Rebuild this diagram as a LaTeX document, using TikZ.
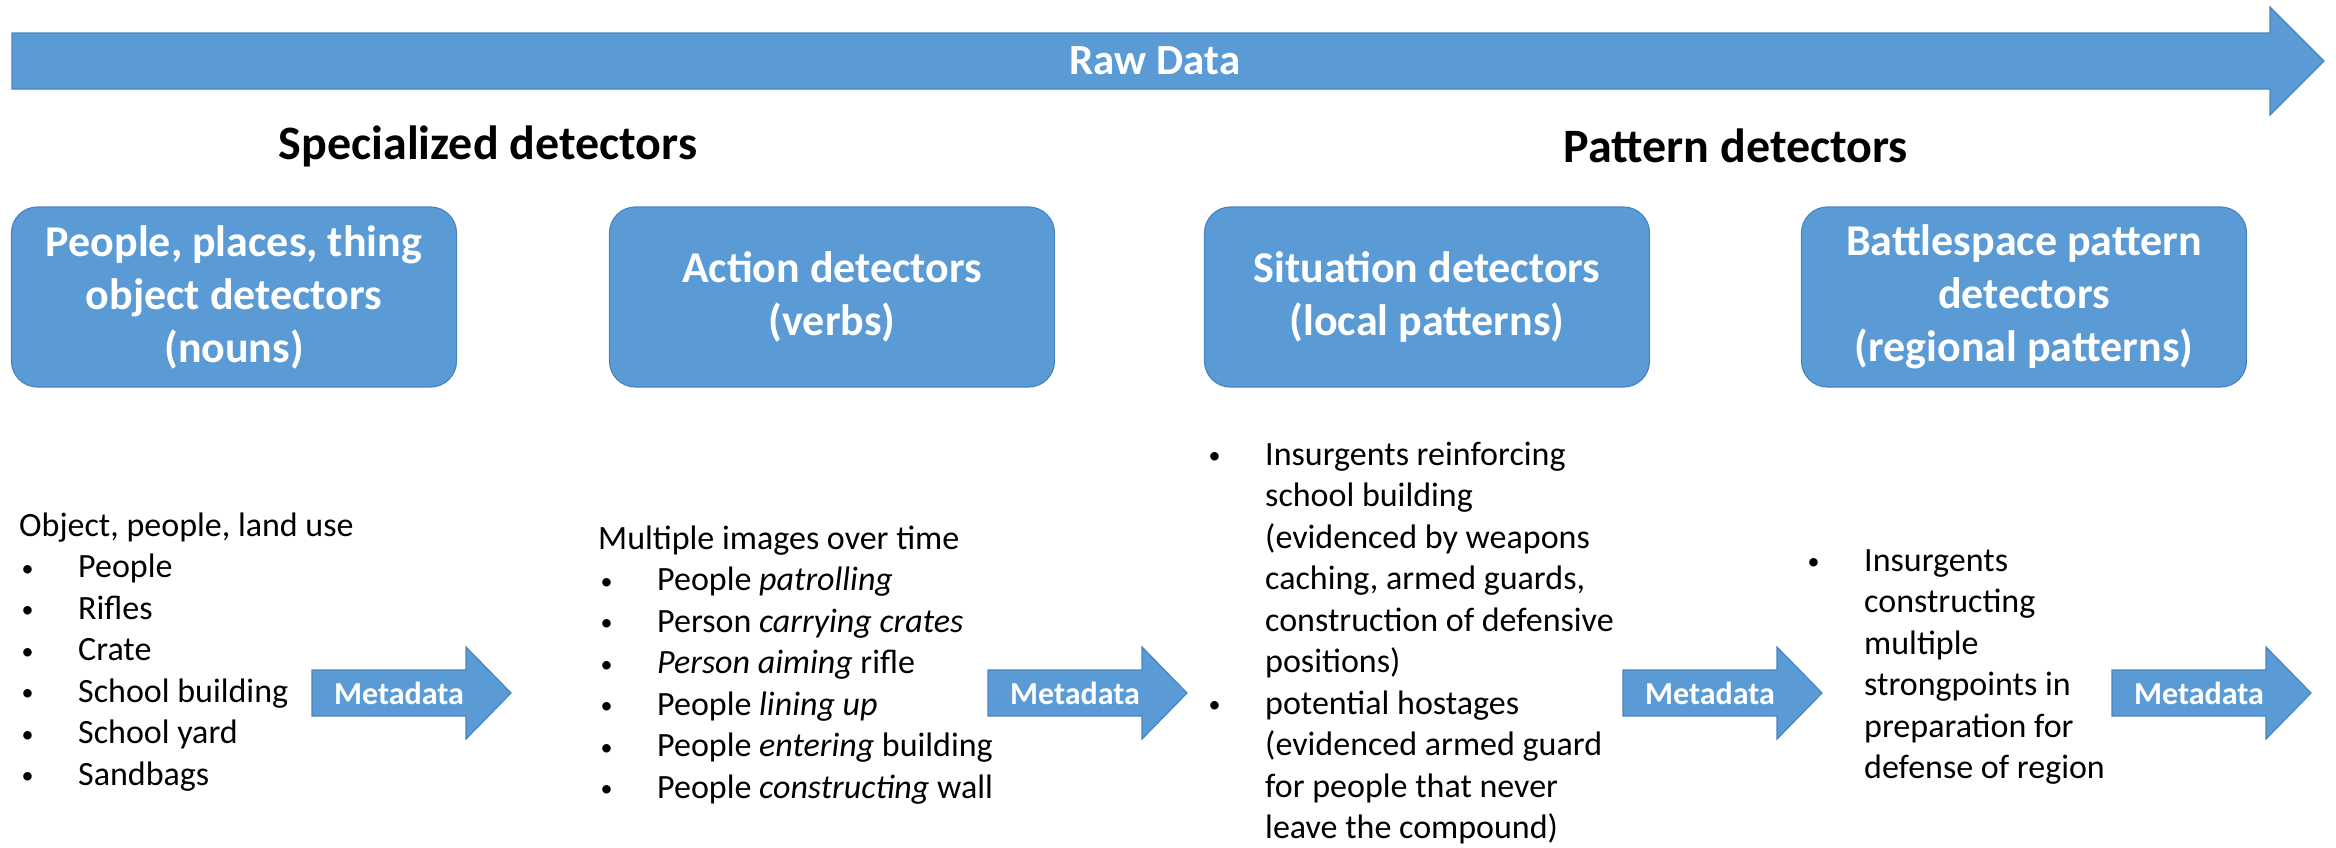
\documentclass[tikz,border=0pt]{standalone}
\usepackage{fontspec}
\setmainfont{Carlito}
\definecolor{boxblue}{HTML}{5B9BD5}
\definecolor{edgeblue}{HTML}{4A84C0}
% bullet and hanging indent for the detail lists
\newcommand{\bul}{\makebox[59pt][l]{\hspace{2.5pt}\raisebox{1.5pt}{\fontsize{24}{24}\selectfont\textbullet}}}
\newcommand{\cont}{\hspace*{59pt}}
\begin{document}
\begin{tikzpicture}[x=1pt,y=-1pt,
  blk/.style={fill=boxblue,draw=edgeblue,line width=1.2pt},
  detbox/.style={blk,rounded corners=26pt,minimum width=445pt,minimum height=180pt,
    inner sep=0pt,align=center,text=white,font=\fontsize{44}{53}\selectfont\bfseries},
  heading/.style={inner sep=0pt,font=\fontsize{48}{58}\selectfont\bfseries},
  tag/.style={text=white,inner sep=0pt,font=\fontsize{32}{38}\selectfont\bfseries},
  bodytext/.style={anchor=base west,inner sep=0pt,font=\fontsize{34}{41.5}\selectfont},
  metaarrow/.pic={\path[blk] (0,-23) -- (154,-23) -- (154,-46) -- (199,0)
      -- (154,46) -- (154,23) -- (0,23) -- cycle;}
]
\useasboundingbox (0,0) rectangle (2336,847);

% raw data stream
\path[blk] (12,33) -- (2270,33) -- (2270,7) -- (2324,61) -- (2270,115)
  -- (2270,89) -- (12,89) -- cycle;
\node[text=white,inner sep=0pt,font=\fontsize{43}{50}\selectfont\bfseries] (raw) at (1155,61) {Raw Data};

% group headings
\node[heading] (spec) at (488,146) {Specialized detectors};
\node[heading] (patt) at (1736,146) {Pattern detectors};

% detector stages
\node[detbox] (nouns) at (234,297) {People, places, thing\\object detectors\\(nouns)};
\node[detbox] (verbs) at (832,297) {Action detectors\\(verbs)};
\node[detbox] (local) at (1427,297) {Situation detectors\\(local patterns)};
\node[detbox] (regional) at (2024,297) {Battlespace pattern\\detectors\\(regional patterns)};

% detections of each stage
\node[bodytext] (objects) at (19,536) {\parbox[t]{560pt}{\raggedright
  Object, people, land use\\
  \bul People\\
  \bul Rifles\\
  \bul Crate\\
  \bul School building\\
  \bul School yard\\
  \bul Sandbags}};
\node[bodytext] (actions) at (598,549) {\parbox[t]{560pt}{\raggedright
  Multiple images over time\\
  \bul People \textit{patrolling}\\
  \bul Person \textit{carrying crates}\\
  \bul \textit{Person aiming} rifle\\
  \bul People \textit{lining up}\\
  \bul People \textit{entering} building\\
  \bul People \textit{constructing} wall}};
\node[bodytext] (situations) at (1206,465) {\parbox[t]{560pt}{\raggedright
  \bul Insurgents reinforcing\\
  \cont school building\\
  \cont (evidenced by weapons\\
  \cont caching, armed guards,\\
  \cont construction of defensive\\
  \cont positions)\\
  \bul potential hostages\\
  \cont (evidenced armed guard\\
  \cont for people that never\\
  \cont leave the compound)}};
\node[bodytext] (battlespace) at (1805,571) {\parbox[t]{500pt}{\raggedright
  \bul Insurgents\\
  \cont constructing\\
  \cont multiple\\
  \cont strongpoints in\\
  \cont preparation for\\
  \cont defense of region}};

% metadata hand-offs
\pic at (312,693) {metaarrow};
\node[tag] (meta1) at (399,693) {Metadata};
\pic at (988,693) {metaarrow};
\node[tag] (meta2) at (1075,693) {Metadata};
\pic at (1623,693) {metaarrow};
\node[tag] (meta3) at (1710,693) {Metadata};
\pic at (2112,693) {metaarrow};
\node[tag] (meta4) at (2199,693) {Metadata};
\end{tikzpicture}
\end{document}
